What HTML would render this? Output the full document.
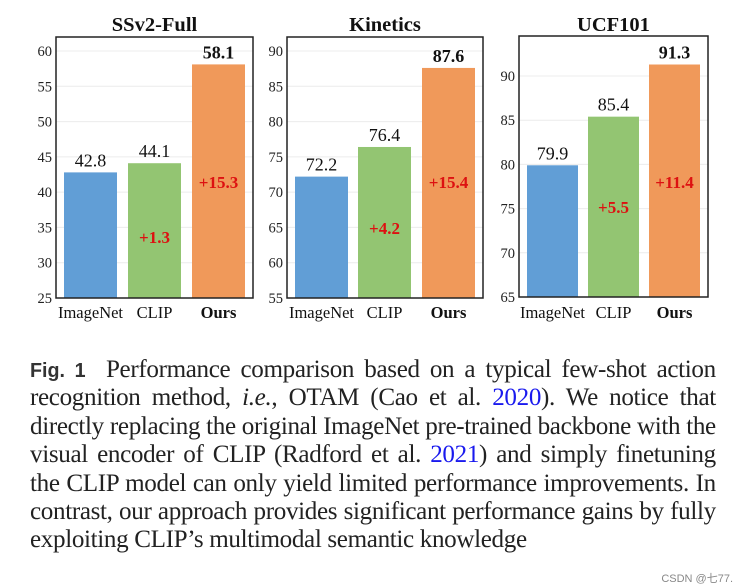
<!DOCTYPE html>
<html><head><meta charset="utf-8">
<style>
html,body{margin:0;padding:0;background:#fff;width:741px;height:588px;overflow:hidden;position:relative}
svg{position:absolute;left:0;top:0}
#cap{position:absolute;left:30px;top:355px;width:697px;transform:scaleX(0.984);transform-origin:0 0;font-family:"Liberation Serif",serif;font-size:25.5px;color:#222;letter-spacing:-0.35px}
#cap div{height:28.4px;line-height:28.4px;text-align:justify;text-align-last:justify;white-space:nowrap}
#cap div.last{text-align-last:left}
.fig{font-family:"Liberation Sans",sans-serif;font-weight:bold;color:#333;font-size:20px;letter-spacing:0}
.lk{color:#1a1aee}
#wm{position:absolute;right:8px;top:570px;font-family:"Liberation Sans","Noto Sans CJK SC",sans-serif;font-size:11px;color:#888}
</style></head><body>
<svg id="chart" width="741" height="340"></svg>
<div id="cap">
<div><span class="fig">Fig. 1</span>&nbsp; Performance comparison based on a typical few-shot action</div>
<div>recognition method, <i>i.e.</i>, OTAM (Cao et al. <span class="lk">2020</span>). We notice that</div>
<div>directly replacing the original ImageNet pre-trained backbone with the</div>
<div>visual encoder of CLIP (Radford et al. <span class="lk">2021</span>) and simply finetuning</div>
<div>the CLIP model can only yield limited performance improvements. In</div>
<div>contrast, our approach provides significant performance gains by fully</div>
<div class="last">exploiting CLIP’s multimodal semantic knowledge</div>
</div>
<div id="wm">CSDN @七77.</div>
<script>
const categories=["ImageNet","CLIP","Ours"];
const titles=["SSv2-Full","Kinetics","UCF101"];
const ssv2Values=[42.8,44.1,58.1];
const kineticsValues=[72.2,76.4,87.6];
const ucfValues=[79.9,85.4,91.3];
const ssv2Ticks=[25,30,35,40,45,50,55,60];
const kineticsTicks=[55,60,65,70,75,80,85,90];
const ucfTicks=[65,70,75,80,85,90];
const ssv2Gains=["","+1.3","+15.3"];
const kineticsGains=["","+4.2","+15.4"];
const ucfGains=["","+5.5","+11.4"];
const colors=["#619ed6","#93c572","#f0995a"];
const NS="http://www.w3.org/2000/svg";
const svg=document.getElementById('chart');
function mk(t,a,txt){const e=document.createElementNS(NS,t);for(const k in a)e.setAttribute(k,a[k]);if(txt!==undefined)e.textContent=txt;svg.appendChild(e);return e;}
const panels=[
 {vals:ssv2Values,ticks:ssv2Ticks,gains:ssv2Gains,x0:56,x1:253,top:37,bot:298,vmin:25,vmax:60,yvmax:51,bars:[64,128,192],bw:53,gy:[0,237,182]},
 {vals:kineticsValues,ticks:kineticsTicks,gains:kineticsGains,x0:287,x1:483,top:37,bot:298,vmin:55,vmax:90,yvmax:51,bars:[295,358,422],bw:53,gy:[0,228,182]},
 {vals:ucfValues,ticks:ucfTicks,gains:ucfGains,x0:519,x1:708,top:36,bot:297,vmin:65,vmax:90,yvmax:76,bars:[527,588,649],bw:51,gy:[0,207,182]}
];
panels.forEach((p,pi)=>{
 const y=v=>p.bot-(v-p.vmin)/(p.vmax-p.vmin)*(p.bot-p.yvmax);
 let e;
 e=mk('text',{x:(p.x0+p.x1)/2,y:31,'text-anchor':'middle','font-family':'Liberation Serif, serif','font-weight':'bold','font-size':20.5,fill:'#111'},titles[pi]);
 
 p.ticks.forEach(t=>{
  if(t!==p.vmin){e=mk('line',{x1:p.x0,x2:p.x1,y1:y(t),y2:y(t),stroke:'#ececec','stroke-width':1});
  }
  e=mk('text',{x:p.x0-4,y:y(t)+5,'text-anchor':'end','font-family':'Liberation Serif, serif','font-size':14.5,fill:'#222'},t);
  
 });
 p.vals.forEach((v,i)=>{
  const bx=p.bars[i];
  e=mk('rect',{x:bx,y:y(v),width:p.bw,height:p.bot-y(v),fill:colors[i]});
  
  const bold=i===2;
  e=mk('text',{x:bx+p.bw/2,y:y(v)-6,'text-anchor':'middle','font-family':'Liberation Serif, serif','font-size':18,'font-weight':bold?'bold':'normal',fill:'#111'},v.toFixed(1));
  
  if(p.gains[i]){e=mk('text',{x:bx+p.bw/2,y:p.gy[i]+6,'text-anchor':'middle','font-family':'Liberation Serif, serif','font-size':17,'font-weight':'bold',fill:'#d11'},p.gains[i]);
  }
  e=mk('text',{x:bx+p.bw/2,y:318,'text-anchor':'middle','font-family':'Liberation Serif, serif','font-size':16.5,'font-weight':bold?'bold':'normal',fill:'#111'},categories[i]);
  
 });
 e=mk('rect',{x:p.x0,y:p.top,width:p.x1-p.x0,height:p.bot-p.top,fill:'none',stroke:'#222','stroke-width':1.5});
 
});
</script>
</body></html>
